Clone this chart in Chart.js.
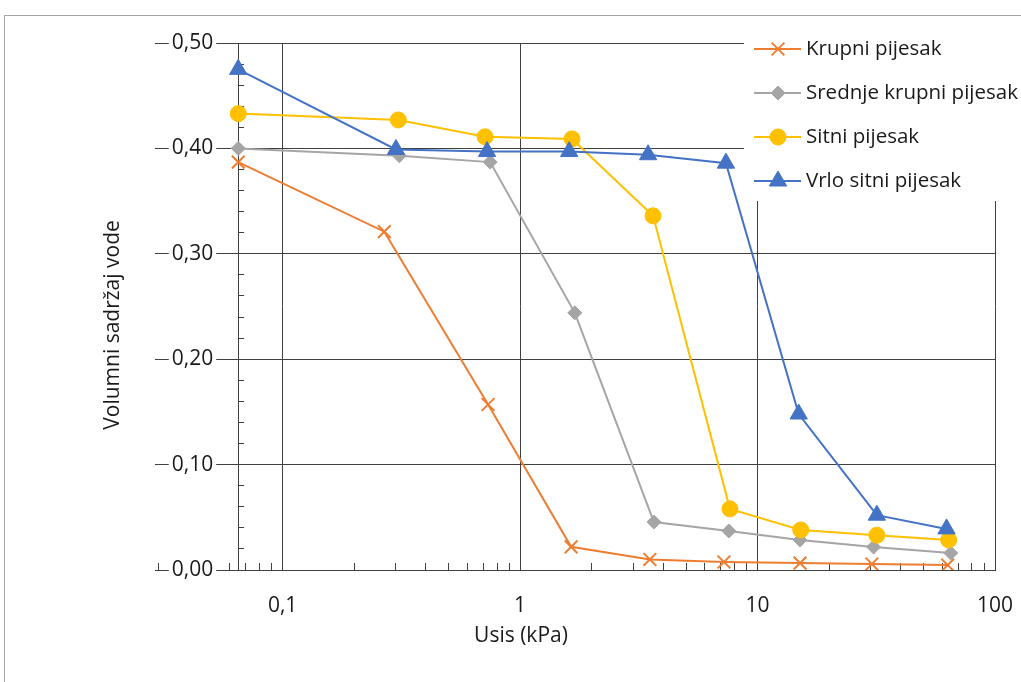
<!DOCTYPE html>
<html>
<head>
<meta charset="utf-8">
<script src="https://cdn.jsdelivr.net/npm/chart.js@4.4.0/dist/chart.umd.min.js"></script>
<style>
  html, body { margin: 0; padding: 0; background: #fff; }
</style>
</head>
<body>
<canvas id="chart" width="1021" height="682"></canvas>
<script>
// axis ticks
const xMajorTicks = [0.1, 1, 10, 100];
const xTickLabels = ['0,1', '1', '10', '100'];
const yMajorTicks = [0, 0.1, 0.2, 0.3, 0.4, 0.5];
const yTickLabels = ['0,00', '0,10', '0,20', '0,30', '0,40', '0,50'];
const xMin = 0.029, xMax = 100;
const yAxisAt = 0.065;   // where the vertical axis crosses
const yLabelAt = 0.051;  // right edge of the vertical axis labels

// suction (kPa) / volumetric water content
const krupniSuction = [0.065, 0.268, 0.733, 1.64, 3.52, 7.22, 15.1, 30.3, 63.2];
const krupniWater = [0.387, 0.321, 0.157, 0.022, 0.010, 0.0076, 0.0066, 0.0057, 0.0047];
const srednjeSuction = [0.065, 0.31, 0.748, 1.70, 3.66, 7.57, 15.1, 30.8, 65.1];
const srednjeWater = [0.400, 0.393, 0.387, 0.244, 0.0455, 0.037, 0.0285, 0.0218, 0.0161];
const sitniSuction = [0.065, 0.307, 0.712, 1.655, 3.63, 7.65, 15.2, 31.8, 63.8];
const sitniWater = [0.433, 0.427, 0.411, 0.409, 0.336, 0.058, 0.038, 0.033, 0.0285];
const vrloSuction = [0.065, 0.30, 0.726, 1.61, 3.46, 7.36, 14.9, 31.8, 62.5];
const vrloWater = [0.475, 0.399, 0.397, 0.397, 0.394, 0.386, 0.148, 0.052, 0.039];

const lineColor = '#404040';
const textColor = '#1a1a1a';
const fontFamily = "'Open Sans', sans-serif";

function pairs(xs, ys) {
    return xs.map((x, i) => ({ x: x, y: ys[i] }));
}

// minor ticks: 1..9 per decade on x, every 0.02 on y
const xAllTicks = [];
for (let d = 0.01; d < xMax; d *= 10) {
    for (let k = 1; k <= 9; k++) {
        const v = +(k * d).toPrecision(6);
        if (v > xMin && v < xMax) xAllTicks.push(v);
    }
}
xAllTicks.push(xMax);
const yAllTicks = [];
for (let i = 0; i <= 25; i++) yAllTicks.push(+(i * 0.02).toFixed(2));

function findIndex(list, v) {
    return list.findIndex(m => Math.abs(m - v) < 1e-9 * Math.max(1, m));
}
function isMajorTick(ctx, list) {
    return !!ctx.tick && findIndex(list, ctx.tick.value) >= 0;
}

const frameAndTitles = {
    id: 'frameAndTitles',
    beforeDraw(chart) {
        const c = chart.ctx;
        c.save();
        c.fillStyle = '#fff';
        c.fillRect(0, 0, chart.width, chart.height);
        c.strokeStyle = '#a6a6a6';
        c.lineWidth = 1;
        c.strokeRect(4.5, 15.5, chart.width + 20, chart.height + 20);
        c.restore();
    },
    afterDraw(chart) {
        const c = chart.ctx;
        c.save();
        c.fillStyle = textColor;
        c.font = '21px ' + fontFamily;
        c.textAlign = 'center';
        c.textBaseline = 'middle';
        c.fillText('Usis (kPa)', 521, 636);
        c.translate(113, 325);
        c.rotate(-Math.PI / 2);
        c.fillText('Volumni sadržaj vode', 0, 0);
        c.restore();
    }
};

const sideLegend = {
    id: 'sideLegend',
    afterDatasetsDraw(chart) {
        const c = chart.ctx;
        c.save();
        c.fillStyle = '#fff';
        c.fillRect(744, 16, chart.width - 744, 185);
        chart.data.datasets.forEach((ds, i) => {
            const y = 49 + i * 44;
            c.strokeStyle = ds.borderColor;
            c.lineWidth = 2;
            c.beginPath();
            c.moveTo(754, y);
            c.lineTo(801, y);
            c.stroke();
            c.fillStyle = ds.pointBackgroundColor;
            c.strokeStyle = ds.pointBorderColor;
            c.lineWidth = ds.pointBorderWidth;
            Chart.helpers.drawPoint(c, {
                pointStyle: ds.pointStyle,
                radius: ds.pointRadius,
                rotation: 0,
                borderWidth: ds.pointBorderWidth
            }, 778, y);
            c.fillStyle = textColor;
            c.font = '20.5px ' + fontFamily;
            c.textAlign = 'left';
            c.textBaseline = 'middle';
            c.fillText(ds.label, 806, y);
        });
        c.restore();
    }
};

new Chart(document.getElementById('chart'), {
    type: 'line',
    data: {
        datasets: [
            {
                label: 'Krupni pijesak',
                data: pairs(krupniSuction, krupniWater),
                borderColor: '#ED7D31',
                backgroundColor: '#ED7D31',
                pointStyle: 'crossRot',
                pointRadius: 9,
                pointBorderWidth: 2,
                pointBackgroundColor: '#ED7D31',
                pointBorderColor: '#ED7D31',
                order: 4
            },
            {
                label: 'Srednje krupni pijesak',
                data: pairs(srednjeSuction, srednjeWater),
                borderColor: '#A5A5A5',
                backgroundColor: '#A5A5A5',
                pointStyle: 'rectRot',
                pointRadius: 7,
                pointBorderWidth: 1,
                pointBackgroundColor: '#A5A5A5',
                pointBorderColor: '#A5A5A5',
                order: 3
            },
            {
                label: 'Sitni pijesak',
                data: pairs(sitniSuction, sitniWater),
                borderColor: '#FFC000',
                backgroundColor: '#FFC000',
                pointStyle: 'circle',
                pointRadius: 8,
                pointBorderWidth: 1,
                pointBackgroundColor: '#FFC000',
                pointBorderColor: '#FFC000',
                order: 2
            },
            {
                label: 'Vrlo sitni pijesak',
                data: pairs(vrloSuction, vrloWater),
                borderColor: '#4472C4',
                backgroundColor: '#4472C4',
                pointStyle: 'triangle',
                pointRadius: 10,
                pointBorderWidth: 1,
                pointBackgroundColor: '#4472C4',
                pointBorderColor: '#4472C4',
                order: 1
            }
        ]
    },
    options: {
        responsive: false,
        animation: false,
        devicePixelRatio: 1,
        elements: { line: { borderWidth: 2, tension: 0, fill: false } },
        layout: { padding: { left: 155, top: 43, right: 26, bottom: 64 } },
        plugins: {
            legend: { display: false },
            tooltip: { enabled: false }
        },
        scales: {
            x: {
                type: 'logarithmic',
                min: xMin,
                max: xMax,
                afterBuildTicks: s => { s.ticks = xAllTicks.map(v => ({ value: v })); },
                afterFit: s => {
                    s.height = 48;
                    s.paddingLeft = 0;
                    s.paddingRight = 0;
                },
                grid: {
                    color: ctx => isMajorTick(ctx, xMajorTicks) ? lineColor : 'transparent',
                    tickColor: lineColor,
                    drawTicks: true,
                    tickLength: -7,
                    lineWidth: 1
                },
                border: { color: lineColor, width: 1, z: -1 },
                ticks: {
                    autoSkip: false,
                    maxRotation: 0,
                    minRotation: 0,
                    padding: 30,
                    color: textColor,
                    font: { family: fontFamily, size: 21 },
                    callback: v => {
                        const i = findIndex(xMajorTicks, v);
                        return i >= 0 ? xTickLabels[i] : '';
                    }
                }
            },
            y: {
                type: 'linear',
                position: { x: yAxisAt },
                min: 0,
                max: 0.5,
                afterBuildTicks: s => { s.ticks = yAllTicks.map(v => ({ value: v })); },
                afterFit: s => { s.paddingTop = 0; s.paddingBottom = 0; },
                grid: {
                    color: ctx => isMajorTick(ctx, yMajorTicks) ? lineColor : 'transparent',
                    tickColor: lineColor,
                    drawTicks: true,
                    tickLength: -6,
                    lineWidth: 1
                },
                border: { color: lineColor, width: 1 },
                ticks: { display: false }
            },
            yLabels: {
                axis: 'y',
                type: 'linear',
                position: { x: yLabelAt },
                min: 0,
                max: 0.5,
                afterBuildTicks: s => { s.ticks = yMajorTicks.map(v => ({ value: v })); },
                afterFit: s => { s.paddingTop = 0; s.paddingBottom = 0; },
                grid: { display: false },
                border: { display: false },
                ticks: {
                    autoSkip: false,
                    padding: 0,
                    color: textColor,
                    font: { family: fontFamily, size: 21 },
                    showLabelBackdrop: true,
                    backdropColor: '#fff',
                    backdropPadding: 3,
                    callback: v => {
                        const i = findIndex(yMajorTicks, v);
                        return i >= 0 ? yTickLabels[i] : '';
                    }
                }
            }
        }
    },
    plugins: [frameAndTitles, sideLegend]
});
</script>
</body>
</html>
